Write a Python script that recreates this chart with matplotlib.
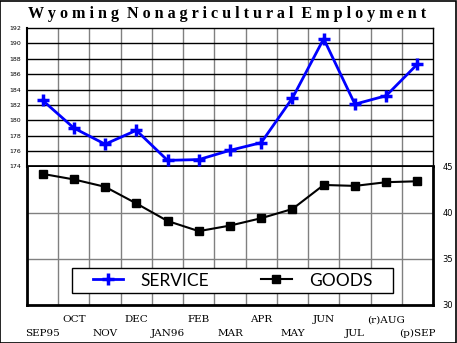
import matplotlib
matplotlib.use('Agg')
import matplotlib.pyplot as plt
import matplotlib.transforms as mtransforms
from matplotlib.lines import Line2D
from matplotlib.patches import Rectangle

# --- data ---
months = ['SEP95', 'OCT', 'NOV', 'DEC', 'JAN96', 'FEB', 'MAR',
          'APR', 'MAY', 'JUN', 'JUL', '(r)AUG', '(p)SEP']
service = [182.6, 179.0, 176.9, 178.7, 174.8, 174.9, 176.1,
           177.1, 182.9, 190.6, 182.1, 183.2, 187.3]
goods = [44.2, 43.6, 42.8, 41.0, 39.1, 38.0, 38.6,
         39.4, 40.4, 43.0, 42.9, 43.3, 43.4]
service_ticks = [174, 176, 178, 180, 182, 184, 186, 188, 190, 192]
goods_ticks = [30, 35, 40, 45]
title = 'W y o m i n g  N o n a g r i c u l t u r a l  E m p l o y m e n t'

x = list(range(len(months)))

fig = plt.figure(figsize=(4.57, 3.43), dpi=100)
left, width = 27 / 457, 406 / 457
ax1 = fig.add_axes([left, 1 - 166.5 / 343, width, 138.5 / 343])
ax2 = fig.add_axes([left, 1 - 305 / 343, width, 138.5 / 343])

# outer frame
fig.patches.append(Rectangle((0.001, 0.001), 0.997, 0.997, transform=fig.transFigure,
                             fill=False, edgecolor='black', linewidth=1.2))

fig.text(0.497, 0.958, title, ha='center', va='center', fontsize=11.6,
         family='Liberation Serif', weight='bold')

# --- top panel: service ---
ax1.set_xlim(-0.5, 12.5)
ax1.set_ylim(service_ticks[0], service_ticks[-1])
for i in range(len(months) - 1):
    ax1.axvline(i + 0.5, color='#808080', lw=1, zorder=1)
for v in service_ticks[1:-1]:
    ax1.axhline(v, color='black', lw=1, zorder=1)
ax1.plot(x, service, color='#0000ff', lw=2, marker='+', ms=8, mew=2.5, zorder=3)
ax1.set_xticks([])
ax1.set_yticks(service_ticks)
ax1.set_yticklabels([str(t) for t in service_ticks], fontsize=4.5)
ax1.tick_params(axis='y', length=0, pad=4)
for s in ['top', 'right']:
    ax1.spines[s].set_linewidth(1)
ax1.spines['left'].set_linewidth(1.5)
ax1.spines['bottom'].set_linewidth(2)

# --- bottom panel: goods ---
ax2.set_xlim(-0.5, 12.5)
ax2.set_ylim(goods_ticks[0], goods_ticks[-1])
for i in range(len(months) - 1):
    ax2.axvline(i + 0.5, color='#808080', lw=1, zorder=1)
for v in goods_ticks[1:-1]:
    ax2.axhline(v, color='#808080', lw=1, zorder=1)
ax2.plot(x, goods, color='black', lw=1.5, marker='s', ms=5.5, zorder=3)
ax2.set_xticks([])
ax2.yaxis.tick_right()
ax2.set_yticks(goods_ticks)
ax2.set_yticklabels([str(t) for t in goods_ticks], fontsize=6)
ax2.tick_params(axis='y', length=0, pad=7)
ax2.spines['top'].set_visible(False)
for s in ['left', 'right', 'bottom']:
    ax2.spines[s].set_linewidth(2)

# month labels in two staggered rows
trans = mtransforms.blended_transform_factory(ax2.transData, fig.transFigure)
for i, m in enumerate(months):
    yy = 1 - 320 / 343 if i % 2 else 1 - 333 / 343
    ax2.text(i, yy, m, transform=trans, ha='center', va='center',
             fontsize=7.5, family='DejaVu Serif')

# legend box drawn separately so its size matches the original
ax2.add_patch(Rectangle((72 / 457, 1 - 293 / 343), 321 / 457, 25 / 343,
                        transform=fig.transFigure, facecolor='white',
                        edgecolor='black', lw=1, zorder=4, clip_on=False))
handles = [Line2D([], [], color='#0000ff', lw=2, marker='+', ms=8, mew=2.5),
           Line2D([], [], color='black', lw=1.5, marker='s', ms=5.5)]
leg = ax2.legend(handles, ['SERVICE', 'GOODS'], ncol=2, loc='center',
                 bbox_to_anchor=(232.5 / 457, 1 - 280.5 / 343),
                 bbox_transform=fig.transFigure, frameon=False,
                 handlelength=1.75, handletextpad=1.0, columnspacing=3.0,
                 borderpad=0, prop={'family': 'Lato', 'size': 12.5})
leg.set_zorder(5)

fig.savefig('out.png', dpi=100)
